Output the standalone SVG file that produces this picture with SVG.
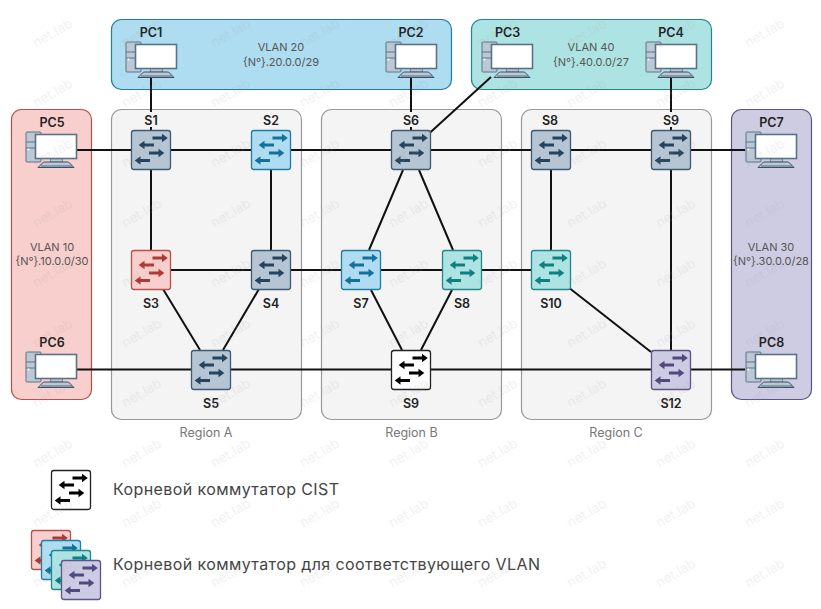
<svg xmlns="http://www.w3.org/2000/svg" width="821" height="609" viewBox="0 0 821 609">
<style>
text{font-family:"Inter","Open Sans","Liberation Sans",sans-serif}
.lbl{font-size:12.500px;font-weight:600;fill:#222;text-anchor:middle;dominant-baseline:central}
.v{font-size:11px;fill:#555;text-anchor:middle}
.r{font-size:12.500px;fill:#777;text-anchor:middle}
.leg{font-size:16px;fill:#444}
.wm{font-size:13.500px;fill:#999;opacity:.16;text-anchor:middle}
.area{stroke-width:1.2}
.region{fill:#f4f4f4;stroke:#999;stroke-width:1.2}
.link{stroke:#111;stroke-width:2;fill:none}
.bg{fill:#f4f4f4}
.gray{--f:#b5c5d3;--s:#3f5a72;color:#24445f}
.blue{--f:#afdcf1;--s:#1f7ca3;color:#12729b}
.red{--f:#f8cfcc;--s:#b8504a;color:#b03a33}
.teal{--f:#aee3e3;--s:#20888a;color:#0f8080}
.purple{--f:#cdcae3;--s:#5c5488;color:#54497f}
.root{--f:#fff;--s:#222;color:#000}
</style>
<defs>
<symbol id="sw" width="40" height="40" viewBox="0 0 40 40" overflow="visible">
<rect x="0.500" y="0.500" width="39" height="39" rx="2.500" style="fill:var(--f);stroke:var(--s)" stroke-width="1.300"/>
<g fill="currentColor">
<path d="M21.500 6.500h9.500v-2.700l5.800 4.200-5.800 4.200v-2.700h-9.500z"/>
<path d="M23 13.500h-9.500v-2.700l-5.800 4.200 5.800 4.200v-2.700h9.500z"/>
<path d="M18 21.500h9.500v-2.700l5.800 4.200-5.800 4.200v-2.700h-9.500z"/>
<path d="M19 29h-9.500v-2.700l-5.800 4.200 5.800 4.200v-2.700h9.500z"/>
</g>
</symbol>
<symbol id="pc" width="54" height="38" viewBox="0 0 54 38" overflow="visible">
<rect x="1" y="1" width="15" height="30" rx="1" fill="#bcc8d4" stroke="#5a7288"/>
<path d="M1 11h15M1 17h15" stroke="#5a7288" fill="none"/>
<circle cx="3.500" cy="18.500" r="1" fill="#fff"/>
<rect x="10.500" y="3.500" width="41" height="24" fill="#fff" stroke="#5a7288" stroke-width="1.600"/>
<path d="M25.500 28h12v3h-12z" fill="#bcc8d4" stroke="#5a7288" stroke-width=".8"/>
<path d="M13 36.500l5.500-5.500h25l5.500 5.500z" fill="#bcc8d4" stroke="#3a5068"/>
<path d="M16 35h31" stroke="#3a5068" stroke-width=".8"/>
</symbol>
<pattern id="wm" patternUnits="userSpaceOnUse" x="10.500" y="3" width="89" height="60">
<text class="wm" x="0" y="0" transform="translate(44.500 34) rotate(-30)">net.lab</text>
</pattern>
</defs>
<rect width="821" height="609" fill="#fff"/>
<g id="areas">
<rect id="vlan20" class="area" x="111.500" y="19.500" width="340" height="70" rx="10" fill="#aedcf0" stroke="#1f7ca3"/>
<rect id="vlan40" class="area" x="471.500" y="19.500" width="240" height="70" rx="10" fill="#aee3e3" stroke="#20888a"/>
<rect id="vlan10" class="area" x="11.500" y="109.500" width="80" height="290" rx="10" fill="#f8cfcc" stroke="#b8504a"/>
<rect id="vlan30" class="area" x="731.500" y="109.500" width="80" height="290" rx="10" fill="#cecce3" stroke="#5c5488"/>
<rect id="regionA" class="region" x="111.500" y="109.500" width="190" height="310" rx="10"/>
<rect id="regionB" class="region" x="321.500" y="109.500" width="180" height="310" rx="10"/>
<rect id="regionC" class="region" x="521.500" y="109.500" width="190" height="310" rx="10"/>
<text class="v" x="281" y="51">VLAN 20</text><text class="v" x="281" y="66">{N°}.20.0.0/29</text>
<text class="v" x="591" y="51">VLAN 40</text><text class="v" x="591" y="66">{N°}.40.0.0/27</text>
<text class="v" x="52" y="251">VLAN 10</text><text class="v" x="52" y="265">{N°}.10.0.0/30</text>
<text class="v" x="771" y="251">VLAN 30</text><text class="v" x="771" y="265">{N°}.30.0.0/28</text>
<text class="r" x="206" y="437">Region A</text>
<text class="r" x="411.500" y="437">Region B</text>
<text class="r" x="616" y="437">Region C</text>
</g>
<g id="connectors">
<path class="link" d="M77 150H745M151 270H551M77 369.500H745"/>
<path class="link" d="M151 76V130M411 76V130M671 76V130M491 77L411 150"/>
<path class="link" d="M151 170V250M271 170V250M551 170V250M671 170V350"/>
<path class="link" d="M403 170L369 250M419 170L453 250M371 290L402 350M452 290L421 350"/>
<path class="link" d="M163 289L200 350M259 289L223 350M568 287L651 352"/>
</g>
<g id="PC1"><use href="#pc" x="125" y="41"/><text class="lbl" x="151" y="32">PC1</text></g>
<g id="PC2"><use href="#pc" x="385" y="41"/><text class="lbl" x="411" y="32">PC2</text></g>
<g id="PC3"><use href="#pc" x="481" y="41"/><text class="lbl" x="507.500" y="32">PC3</text></g>
<g id="PC4"><use href="#pc" x="645" y="41"/><text class="lbl" x="671" y="32">PC4</text></g>
<g id="PC5"><use href="#pc" x="25" y="131"/><text class="lbl" x="52" y="122">PC5</text></g>
<g id="PC6"><use href="#pc" x="25" y="351"/><text class="lbl" x="52" y="342">PC6</text></g>
<g id="PC7"><use href="#pc" x="745" y="131"/><text class="lbl" x="771.500" y="122">PC7</text></g>
<g id="PC8"><use href="#pc" x="745" y="351"/><text class="lbl" x="771.500" y="342">PC8</text></g>
<g id="S1" class="gray"><rect class="bg" x="142" y="112" width="18" height="15"/><use href="#sw" x="131" y="130"/><text class="lbl" x="151" y="120">S1</text></g>
<g id="S2" class="blue"><use href="#sw" x="251" y="130"/><text class="lbl" x="271" y="120">S2</text></g>
<g id="S6" class="gray"><rect class="bg" x="402" y="112" width="18" height="15"/><use href="#sw" x="391" y="130"/><text class="lbl" x="411" y="120">S6</text></g>
<g id="S8top" class="gray"><use href="#sw" x="531" y="130"/><text class="lbl" x="550" y="120">S8</text></g>
<g id="S9top" class="gray"><rect class="bg" x="662" y="112" width="18" height="15"/><use href="#sw" x="651" y="130"/><text class="lbl" x="671" y="120">S9</text></g>
<g id="S3" class="red"><use href="#sw" x="131" y="250"/><text class="lbl" x="151" y="303">S3</text></g>
<g id="S4" class="gray"><use href="#sw" x="251" y="250"/><text class="lbl" x="271" y="303">S4</text></g>
<g id="S7" class="blue"><use href="#sw" x="341" y="250"/><text class="lbl" x="361" y="303">S7</text></g>
<g id="S8" class="teal"><use href="#sw" x="442" y="250"/><text class="lbl" x="462" y="303">S8</text></g>
<g id="S10" class="teal"><use href="#sw" x="531" y="250"/><text class="lbl" x="551" y="303">S10</text></g>
<g id="S5" class="gray"><use href="#sw" x="191" y="350"/><text class="lbl" x="211" y="403">S5</text></g>
<g id="S9" class="root"><use href="#sw" x="391" y="350"/><text class="lbl" x="411" y="403">S9</text></g>
<g id="S12" class="purple"><use href="#sw" x="651" y="350"/><text class="lbl" x="671" y="403">S12</text></g>
<g id="legend">
<g class="root"><use href="#sw" x="51" y="470"/></g>
<text class="leg" x="113" y="495" textLength="226">Корневой коммутатор CIST</text>
<g class="red"><use href="#sw" x="31" y="530"/></g>
<g class="blue"><use href="#sw" x="41" y="540"/></g>
<g class="teal"><use href="#sw" x="51" y="550"/></g>
<g class="purple"><use href="#sw" x="61" y="560"/></g>
<text class="leg" x="113" y="570" textLength="427">Корневой коммутатор для соответствующего VLAN</text>
</g>
<rect id="watermark" width="821" height="609" fill="url(#wm)"/>
</svg>
